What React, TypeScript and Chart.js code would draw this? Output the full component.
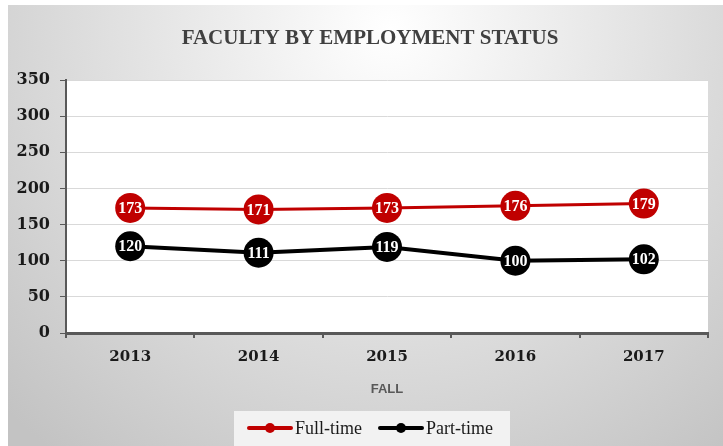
import React, { useEffect, useRef } from "react";
import { Chart, registerables } from "chart.js";

Chart.register(...registerables);

const categories = ["2013", "2014", "2015", "2016", "2017"];
const fullTime = [173, 171, 173, 176, 179];
const partTime = [120, 111, 119, 100, 102];
const yTicks = [0, 50, 100, 150, 200, 250, 300, 350];
const titleText = "FACULTY BY EMPLOYMENT STATUS";
const xAxisTitle = "FALL";
const seriesNames = ["Full-time", "Part-time"];
const seriesColors = ["#C00000", "#000000"];

const W = 723;
const H = 446;

const decorPlugin = {
  id: "decor",
  beforeDraw(chart: any) {
    const ctx = chart.ctx;
    const ca = chart.chartArea;
    ctx.save();
    ctx.fillStyle = "#ffffff";
    ctx.fillRect(0, 0, W, H);
    const g = ctx.createRadialGradient(390, 30, 0, 390, 30, 540);
    g.addColorStop(0, "#ffffff");
    g.addColorStop(1, "#c3c3c3");
    ctx.fillStyle = g;
    ctx.fillRect(8, 5, W - 8, H - 5);
    ctx.fillStyle = "#ffffff";
    ctx.fillRect(ca.left, ca.top, ca.right - ca.left, ca.bottom - ca.top);
    ctx.restore();
  },
  afterDatasetsDraw(chart: any) {
    const ctx = chart.ctx;
    ctx.save();
    ctx.fillStyle = "#ffffff";
    ctx.font = "bold 16px 'Liberation Serif'";
    ctx.textAlign = "center";
    ctx.textBaseline = "middle";
    chart.data.datasets.forEach((ds: any, i: number) => {
      const meta = chart.getDatasetMeta(i);
      meta.data.forEach((pt: any, j: number) => {
        ctx.fillText(String(ds.data[j]), pt.x, pt.y + 1);
      });
    });
    ctx.restore();
  },
  afterDraw(chart: any) {
    const ctx = chart.ctx;
    const ca = chart.chartArea;
    ctx.save();
    // title
    ctx.fillStyle = "#404040";
    ctx.font = "bold 21px 'Liberation Serif'";
    ctx.textAlign = "center";
    ctx.textBaseline = "middle";
    ctx.fillText(titleText, 370, 39);
    // x axis title
    ctx.fillStyle = "#595959";
    ctx.font = "bold 13px 'Liberation Sans'";
    ctx.fillText(xAxisTitle, (ca.left + ca.right) / 2, 389);
    // legend
    ctx.fillStyle = "#f2f2f2";
    ctx.fillRect(234, 411, 276, 40);
    const items = [
      { x: 249, label: seriesNames[0], color: seriesColors[0] },
      { x: 380, label: seriesNames[1], color: seriesColors[1] },
    ];
    items.forEach((it) => {
      const y = 428;
      ctx.strokeStyle = it.color;
      ctx.lineWidth = 4;
      ctx.lineCap = "round";
      ctx.beginPath();
      ctx.moveTo(it.x, y);
      ctx.lineTo(it.x + 42, y);
      ctx.stroke();
      ctx.fillStyle = it.color;
      ctx.beginPath();
      ctx.arc(it.x + 21, y, 5, 0, Math.PI * 2);
      ctx.fill();
      ctx.fillStyle = "#1a1a1a";
      ctx.font = "18px 'Liberation Serif'";
      ctx.textAlign = "left";
      ctx.textBaseline = "middle";
      ctx.fillText(it.label, it.x + 46, y + 1);
    });
    ctx.restore();
  },
};

export default function App() {
  const ref = useRef<HTMLCanvasElement | null>(null);
  useEffect(() => {
    if (!ref.current) return;
    const chart = new Chart(ref.current, {
      type: "line",
      data: {
        labels: categories,
        datasets: [
          {
            label: seriesNames[0],
            data: fullTime,
            borderColor: seriesColors[0],
            backgroundColor: seriesColors[0],
            borderWidth: 3,
            pointRadius: 15,
            pointHoverRadius: 15,
            pointBorderWidth: 0,
            pointBackgroundColor: seriesColors[0],
          },
          {
            label: seriesNames[1],
            data: partTime,
            borderColor: seriesColors[1],
            backgroundColor: seriesColors[1],
            borderWidth: 4,
            pointRadius: 15,
            pointHoverRadius: 15,
            pointBorderWidth: 0,
            pointBackgroundColor: seriesColors[1],
          },
        ],
      },
      options: {
        responsive: false,
        animation: false,
        layout: { padding: { top: 80, right: 14, left: 0, bottom: 0 } },
        plugins: {
          legend: { display: false },
          title: { display: false },
          tooltip: { enabled: false },
        },
        scales: {
          x: {
            offset: true,
            grid: {
              offset: true,
              drawOnChartArea: false,
              drawTicks: true,
              tickLength: 5,
              color: "#595959",
              lineWidth: 2,
            },
            border: { display: true, color: "#595959", width: 3 },
            ticks: {
              color: "#1a1a1a",
              font: { family: "'DejaVu Serif'", weight: "bold", size: 15 },
              padding: 10,
            },
            afterFit(scale: any) {
              scale.height = 113;
            },
          },
          y: {
            min: 0,
            max: 350,
            afterBuildTicks(scale: any) {
              scale.ticks = yTicks.map((v) => ({ value: v }));
            },
            grid: {
              color: "#d9d9d9",
              lineWidth: 1,
              drawTicks: true,
              tickLength: 6,
              tickColor: "#595959",
            },
            border: { display: true, color: "#595959", width: 2 },
            ticks: {
              color: "#1a1a1a",
              font: { family: "'DejaVu Serif'", weight: "bold", size: 16 },
              padding: 10,
            },
            afterFit(scale: any) {
              scale.width = 66;
            },
          },
        },
      },
      plugins: [decorPlugin],
    });
    return () => chart.destroy();
  }, []);
  return (
    <div style={{ position: "absolute", left: 0, top: 0, width: W, height: H }}>
      <canvas ref={ref} width={W} height={H} style={{ display: "block" }} />
    </div>
  );
}
